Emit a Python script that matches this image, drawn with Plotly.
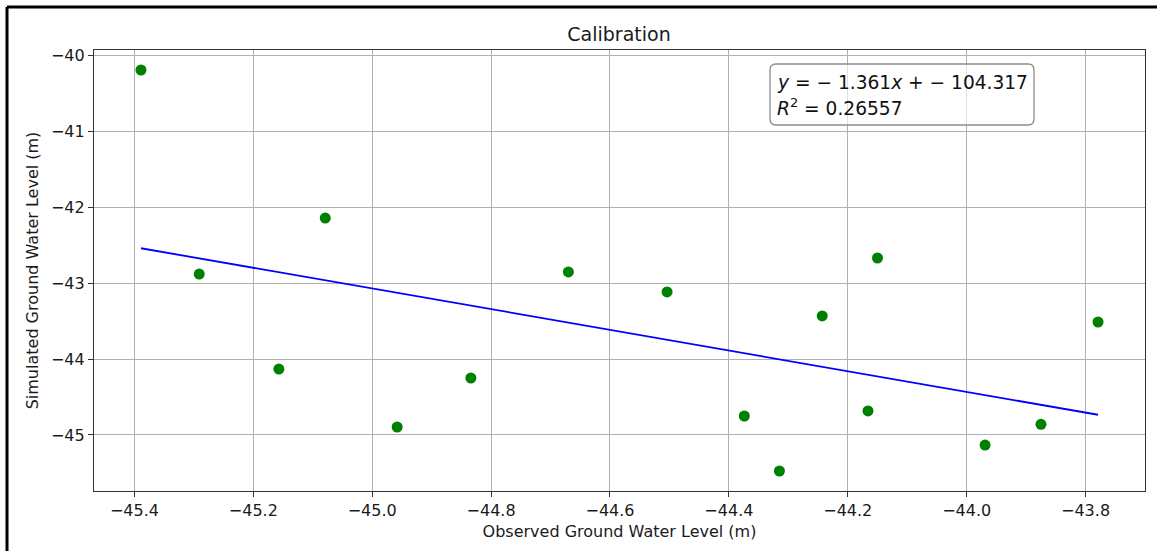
import plotly.graph_objects as go

# Observed vs simulated ground water levels (m)
observed = [-45.389, -45.291, -45.157, -45.079, -44.958, -44.834, -44.670, -44.504,
            -44.374, -44.315, -44.243, -44.166, -44.150, -43.969, -43.875, -43.779]
simulated = [-40.197, -42.882, -44.132, -42.145, -44.895, -44.250, -42.855, -43.118,
             -44.750, -45.474, -43.434, -44.684, -42.671, -45.132, -44.859, -43.513]

# Regression line parameters
slope = -1.361
intercept = -104.317
r_squared = 0.26557

x_ticks = [-45.4, -45.2, -45.0, -44.8, -44.6, -44.4, -44.2, -44.0, -43.8]
y_ticks = [-40, -41, -42, -43, -44, -45]

def fmt(v, nd):
    s = f"{abs(v):.{nd}f}"
    return ("\u2212" + s) if v < 0 else s

x_fit = [min(observed), max(observed)]
y_fit = [slope * x + intercept for x in x_fit]

font_family = "DejaVu Sans"
text_color = "#1a1a1a"

W, H = 1157, 551
ML, MR, MT, MB = 94, 12, 50, 60
PW, PH = W - ML - MR, H - MT - MB

def px(xp):
    return (xp - ML) / PW

def py(yp):
    return (H - MB - yp) / PH

fig = go.Figure()
fig.add_trace(go.Scatter(x=x_fit, y=y_fit, mode="lines",
                         line=dict(color="blue", width=1.8), hoverinfo="skip",
                         showlegend=False))
fig.add_trace(go.Scatter(x=observed, y=simulated, mode="markers",
                         marker=dict(color="green", size=11, line=dict(width=0)),
                         showlegend=False))

axis_common = dict(
    showgrid=True, gridcolor="#b0b0b0", gridwidth=1,
    showline=True, linecolor="#333333", linewidth=1.3, mirror=True,
    ticks="outside", ticklen=5, tickwidth=1, tickcolor="#333333",
    zeroline=False,
    tickfont=dict(family=font_family, size=16, color=text_color),
)

fig.update_xaxes(
    range=[-45.468, -43.700],
    tickmode="array", tickvals=x_ticks, ticktext=[fmt(v, 1) for v in x_ticks],
    title=dict(text="Observed Ground Water Level (m)",
               font=dict(family=font_family, size=16, color=text_color), standoff=6),
    **axis_common,
)
fig.update_yaxes(
    range=[-45.737, -39.934],
    tickmode="array", tickvals=y_ticks, ticktext=[fmt(v, 0) for v in y_ticks],
    title=dict(text="Simulated Ground Water Level (m)",
               font=dict(family=font_family, size=16, color=text_color), standoff=8),
    **axis_common,
)

# Rounded box behind the fit equation
bx0, bx1, by0, by1, r = 770, 1034, 64, 125, 6
path = (f"M {px(bx0 + r)} {py(by0)} L {px(bx1 - r)} {py(by0)} "
        f"Q {px(bx1)} {py(by0)} {px(bx1)} {py(by0 + r)} "
        f"L {px(bx1)} {py(by1 - r)} Q {px(bx1)} {py(by1)} {px(bx1 - r)} {py(by1)} "
        f"L {px(bx0 + r)} {py(by1)} Q {px(bx0)} {py(by1)} {px(bx0)} {py(by1 - r)} "
        f"L {px(bx0)} {py(by0 + r)} Q {px(bx0)} {py(by0)} {px(bx0 + r)} {py(by0)} Z")
fig.add_shape(type="path", xref="paper", yref="paper", path=path,
              fillcolor="rgba(255,255,255,0.6)", line=dict(color="#8c8c8c", width=1.3),
              layer="above")

eq_line = f"<i>y</i> = \u2212 {abs(slope):.3f}<i>x</i> + \u2212 {abs(intercept):.3f}"
r2_line = f"<i>R</i><sup>2</sup> = {r_squared:.5f}"

for line_text, yc in [(eq_line, 82), (r2_line, 107)]:
    fig.add_annotation(
        xref="paper", yref="paper", x=px(776), y=py(yc),
        xanchor="left", yanchor="middle", align="left", showarrow=False,
        text=line_text,
        font=dict(family=font_family, size=18.6, color="#111111"),
        borderpad=0,
    )

# Frame around the figure
frame = dict(type="line", xref="paper", yref="paper",
             line=dict(color="black", width=3))
fig.add_shape(x0=px(7), x1=px(1160), y0=py(7), y1=py(7), **frame)
fig.add_shape(x0=px(7), x1=px(7), y0=py(7), y1=py(555), **frame)

fig.update_layout(
    width=W, height=H,
    margin=dict(l=ML, r=MR, t=MT, b=MB),
    paper_bgcolor="white", plot_bgcolor="white",
    title=dict(text="Calibration", x=619 / W, xanchor="center",
               y=1 - 34 / H, yanchor="middle",
               font=dict(family=font_family, size=19, color=text_color)),
    font=dict(family=font_family),
)

fig.write_html("out.html")
